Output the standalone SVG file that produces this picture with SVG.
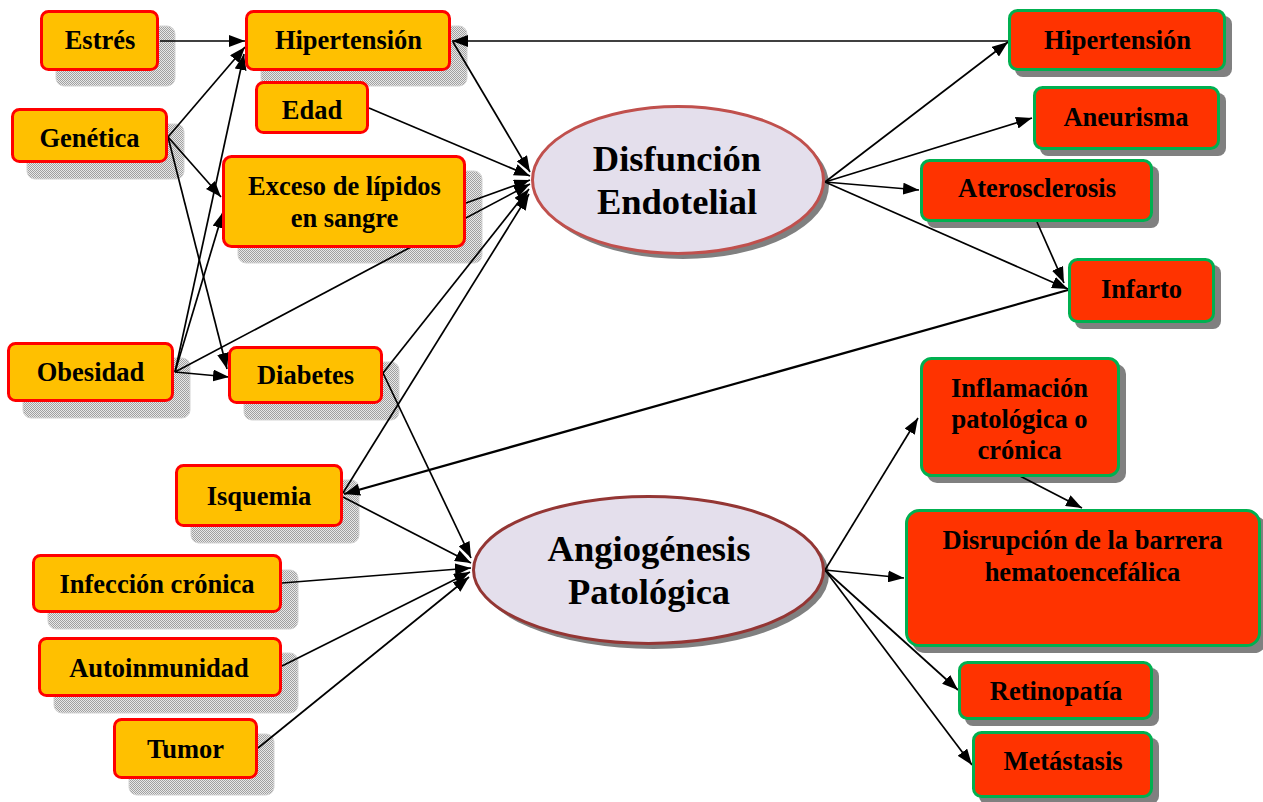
<svg xmlns="http://www.w3.org/2000/svg" width="1263" height="802" viewBox="0 0 1263 802">
<defs>
<pattern id="dither" width="2" height="2" patternUnits="userSpaceOnUse">
<rect x="0" y="0" width="2" height="2" fill="#e8e8e8"/>
<rect x="0" y="0" width="1" height="1" fill="#a0a0a0"/>
<rect x="1" y="1" width="1" height="1" fill="#a0a0a0"/>
</pattern>
<marker id="ah" markerUnits="userSpaceOnUse" markerWidth="16" markerHeight="12" refX="16" refY="6" orient="auto">
<path d="M0,0 L16,6 L0,12 z" fill="#000"/>
</marker>
</defs>
<style>
.sh{fill:url(#dither);stroke:#d4d4d4;stroke-width:1}
.lb{fill:#FFC000;stroke:#FF0000;stroke-width:3}
.rsh{fill:#808080}
.rb{fill:#FF3300;stroke:#00B050;stroke-width:3}
.el{fill:#E4DFEC;stroke-width:3}
.esh{fill:#808080}
.t{font-family:"Liberation Serif","Times New Roman",serif;font-weight:bold;font-size:26.5px;fill:#000;text-anchor:middle}
.tb{font-family:"Liberation Serif","Times New Roman",serif;font-weight:bold;font-size:36.5px;fill:#000;text-anchor:middle}
.c{stroke:#000;stroke-width:1.7;fill:none;marker-end:url(#ah)}
</style>
<rect width="1263" height="802" fill="#fff"/>

<g id="shadows">
<rect class="sh" x="56" y="26" width="119" height="60" rx="8"/>
<rect class="sh" x="261" y="26" width="206" height="60" rx="8"/>
<rect class="sh" x="27" y="124" width="157" height="55" rx="8"/>
<rect class="sh" x="238" y="171" width="244" height="92" rx="8"/>
<rect class="sh" x="23" y="358" width="167" height="60" rx="8"/>
<rect class="sh" x="244" y="362" width="155" height="58" rx="8"/>
<rect class="sh" x="191" y="480" width="168" height="63" rx="8"/>
<rect class="sh" x="48" y="570" width="250" height="59" rx="8"/>
<rect class="sh" x="54" y="653" width="244" height="60" rx="8"/>
<rect class="sh" x="129" y="734" width="145" height="61" rx="8"/>
<ellipse class="esh" cx="683" cy="185" rx="146" ry="74"/>
<ellipse class="esh" cx="653.5" cy="575" rx="175.5" ry="74"/>
<rect class="rsh" x="1015" y="16" width="217" height="61" rx="8"/>
<rect class="rsh" x="1040" y="93" width="186" height="63" rx="8"/>
<rect class="rsh" x="927" y="166" width="232" height="62" rx="8"/>
<rect class="rsh" x="1075" y="265" width="146" height="64" rx="8"/>
<rect class="rsh" x="927" y="364" width="199" height="119" rx="10"/>
<rect class="rsh" x="912" y="516" width="355" height="137" rx="13"/>
<rect class="rsh" x="965" y="668" width="194" height="58" rx="8"/>
<rect class="rsh" x="979" y="738" width="180" height="66" rx="8"/>
</g>

<g id="connectors">
<path class="c" d="M160,41 L245,41"/>
<path class="c" d="M168,137 L245,47"/>
<path class="c" d="M175,372 L244,54"/>
<path class="c" d="M168,137 L221,197"/>
<path class="c" d="M175,372 L223,212"/>
<path class="c" d="M168,137 L227,369"/>
<path class="c" d="M175,372 L229,377"/>
<path class="c" d="M175,372 L530,184"/>
<path class="c" d="M453,42 L530,172"/>
<path class="c" d="M369,108 L530,176"/>
<path class="c" d="M466,203 L530,180"/>
<path class="c" d="M383,373 L529,189"/>
<path class="c" d="M343,493 L529,194"/>
<path class="c" d="M1008,41 L452,41"/>
<path class="c" d="M825,182 L1008,42"/>
<path class="c" d="M825,182 L1032,118"/>
<path class="c" d="M825,182 L919,190"/>
<path class="c" d="M825,182 L1068,289"/>
<path class="c" d="M1037,222 L1064,283"/>
<path class="c" d="M1068,290 L344,494" style="stroke-width:2.3"/>
<path class="c" d="M383,373 L471,558"/>
<path class="c" d="M343,497 L471,563"/>
<path class="c" d="M282,583 L471,568"/>
<path class="c" d="M282,666 L470,572"/>
<path class="c" d="M258,748 L469,577"/>
<path class="c" d="M825,570 L918,418"/>
<path class="c" d="M825,570 L904,578"/>
<path class="c" d="M825,570 L958,690"/>
<path class="c" d="M825,570 L972,765"/>
<path class="c" d="M1018,475 L1082,508"/>
</g>

<g id="n-estres">
<rect class="lb" x="41.5" y="11.5" width="116" height="58" rx="7"/>
<text class="t" x="100" y="49">Estrés</text>
</g>
<g id="n-hipertension-l">
<rect class="lb" x="246.5" y="11.5" width="203" height="58" rx="7"/>
<text class="t" x="348.5" y="49">Hipertensión</text>
</g>
<g id="n-edad">
<rect class="lb" x="256.5" y="82.5" width="111" height="50" rx="7"/>
<text class="t" x="312" y="119">Edad</text>
</g>
<g id="n-genetica">
<rect class="lb" x="12.5" y="109.5" width="154" height="52" rx="7"/>
<text class="t" x="89.5" y="147">Genética</text>
</g>
<g id="n-exceso">
<rect class="lb" x="223.5" y="156.5" width="241" height="90" rx="8"/>
<text class="t" x="344.5" y="195">Exceso de lípidos</text>
<text class="t" x="344.5" y="227">en sangre</text>
</g>
<g id="n-obesidad">
<rect class="lb" x="8.5" y="343.5" width="164" height="57" rx="7"/>
<text class="t" x="90.5" y="381">Obesidad</text>
</g>
<g id="n-diabetes">
<rect class="lb" x="229.5" y="347.5" width="152" height="55" rx="7"/>
<text class="t" x="305.5" y="384">Diabetes</text>
</g>
<g id="n-isquemia">
<rect class="lb" x="176.5" y="465.5" width="165" height="60" rx="7"/>
<text class="t" x="259" y="505">Isquemia</text>
</g>
<g id="n-infeccion">
<rect class="lb" x="33.5" y="555.5" width="247" height="56" rx="7"/>
<text class="t" x="157" y="593">Infección crónica</text>
</g>
<g id="n-autoinmunidad">
<rect class="lb" x="39.5" y="638.5" width="241" height="57" rx="7"/>
<text class="t" x="159" y="677">Autoinmunidad</text>
</g>
<g id="n-tumor">
<rect class="lb" x="114.5" y="719.5" width="142" height="58" rx="7"/>
<text class="t" x="185.5" y="758">Tumor</text>
</g>

<g id="n-disfuncion">
<ellipse class="el" cx="678" cy="180" rx="145.5" ry="73.5" stroke="#C0504D"/>
<text class="tb" x="677" y="171">Disfunción</text>
<text class="tb" x="677" y="214">Endotelial</text>
</g>
<g id="n-angiogenesis">
<ellipse class="el" cx="648.5" cy="570" rx="175" ry="73.5" stroke="#943634"/>
<text class="tb" x="649" y="561">Angiogénesis</text>
<text class="tb" x="649" y="604">Patológica</text>
</g>

<g id="n-hipertension-r">
<rect class="rb" x="1009.5" y="10.5" width="215" height="59" rx="8"/>
<text class="t" x="1117.5" y="49">Hipertensión</text>
</g>
<g id="n-aneurisma">
<rect class="rb" x="1034.5" y="87.5" width="184" height="61" rx="8"/>
<text class="t" x="1126" y="126">Aneurisma</text>
</g>
<g id="n-aterosclerosis">
<rect class="rb" x="921.5" y="160.5" width="230" height="60" rx="8"/>
<text class="t" x="1037" y="197">Aterosclerosis</text>
</g>
<g id="n-infarto">
<rect class="rb" x="1069.5" y="259.5" width="144" height="62" rx="8"/>
<text class="t" x="1141.5" y="298">Infarto</text>
</g>
<g id="n-inflamacion">
<rect class="rb" x="921.5" y="358.5" width="197" height="117" rx="10"/>
<text class="t" x="1019.5" y="397">Inflamación</text>
<text class="t" x="1019.5" y="428">patológica o</text>
<text class="t" x="1019.5" y="459">crónica</text>
</g>
<g id="n-disrupcion">
<rect class="rb" x="906.5" y="510.5" width="353" height="135" rx="13"/>
<text class="t" x="1082.5" y="549">Disrupción de la barrera</text>
<text class="t" x="1082.5" y="581">hematoencefálica</text>
</g>
<g id="n-retinopatia">
<rect class="rb" x="959.5" y="662.5" width="192" height="56" rx="8"/>
<text class="t" x="1056" y="700">Retinopatía</text>
</g>
<g id="n-metastasis">
<rect class="rb" x="973.5" y="732.5" width="178" height="64" rx="8"/>
<text class="t" x="1063" y="770">Metástasis</text>
</g>
</svg>
